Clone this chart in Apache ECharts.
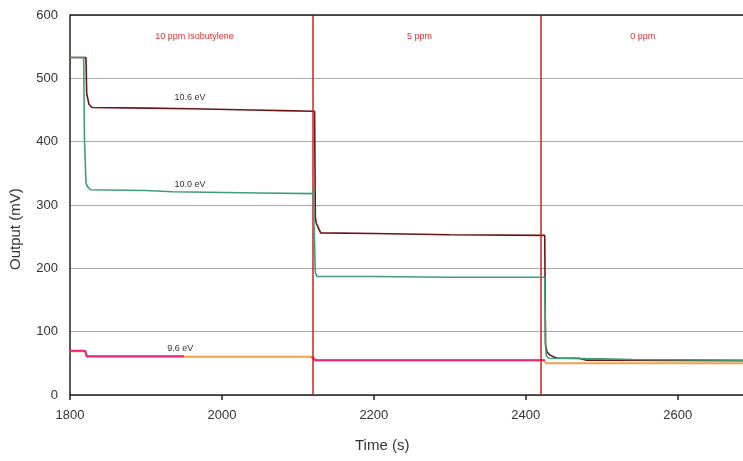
<!DOCTYPE html>
<html><head><meta charset="utf-8">
<script src="https://cdn.jsdelivr.net/npm/echarts@6/dist/echarts.min.js"></script>
<style>html,body{margin:0;padding:0;background:#fff}#c{width:743px;height:461px}</style>
</head><body><div id="c"></div>
<script>
// 10.6 eV lamp
var t106 = [1800,1821,1822,1823,1825,1829,1900,1960,2040,2080,2119,2122,2123,2124,2127,2130,2200,2300,2425,2426,2428,2432,2437,2442,2470,2480,2686];
var v106 = [533,533,476,476,459,454,453,452,450,449,448,448,280,272,264,256,255,253,252,80,68,63,60,58,58,55,54];
// 10.0 eV lamp
var t100 = [1800,1818,1819,1820,1821,1823,1827,1900,1935,2050,2119,2120,2122,2123,2125,2200,2300,2425,2426,2427,2430,2500,2540,2686];
var v100 = [533,533,407,407,335,329,324,323,321,319,318,324,324,193,187,187,186,186,82,62,58,57,56,55];
// 9.6 eV lamp (two traces)
var t96a = [1800,1820,1822,2120,2123,2424,2427,2686];
var v96a = [69,69,60.5,60.5,55,55,50,50];
var t96b = [1800,1820,1822,1950,1951,2118,2123,2425];
var v96b = [70,70,61,61,null,60,55,55];
// annotations
var concLabels = ['10 ppm Isobutylene','5 ppm','0 ppm'];
var concX = [1964,2260,2554];
var concY = 566;
var switchTimes = [2120,2420];
var yTicks = [0,600,100];

function zip(t,v){return t.map(function(x,i){return [x, v[i]];});}
function lbl(text, x, y, color, size){
  return {coord:[x,y], value:text, symbol:'circle', symbolSize:0,
    label:{show:true, formatter:text, color:color, fontSize:size, fontFamily:'Liberation Sans', position:'inside'}};
}
var chart = echarts.init(document.getElementById('c'));
chart.setOption({
  animation:false,
  grid:{left:70, top:15, right:0, bottom:66},
  graphic:[
    {type:'text', left:355, top:438, style:{text:'Time (s)', fill:'#333', fontSize:15, fontFamily:'Liberation Sans'}},
    {type:'text', rotation:Math.PI/2, x:8, y:270, style:{text:'Output (mV)', fill:'#333', fontSize:15, fontFamily:'Liberation Sans'}}
  ],
  xAxis:{type:'value', min:1800, max:2686, interval:200,
    axisLine:{lineStyle:{color:'#222', width:1.5}},
    axisTick:{show:true, length:5, lineStyle:{color:'#222', width:1.5}},
    axisLabel:{color:'#333', fontSize:13, fontFamily:'Liberation Sans', margin:14, showMaxLabel:false,
      formatter:function(v){return String(v);}},
    splitLine:{show:false}},
  yAxis:{type:'value', min:yTicks[0], max:yTicks[1], interval:yTicks[2],
    axisLine:{show:true, lineStyle:{color:'#222', width:1.5}},
    axisTick:{show:false},
    axisLabel:{color:'#333', fontSize:13, fontFamily:'Liberation Sans', margin:12},
    splitLine:{show:true, lineStyle:{color:'#a8a8a8', width:1.2}}},
  series:[
    {type:'line', data:zip(t96a,v96a), showSymbol:false, lineStyle:{color:'#f2a24a', width:2}, z:2,
      markPoint:{data:[lbl('9.6 eV',1945,74,'#333',9)]}},
    {type:'line', data:zip(t96b,v96b), showSymbol:false, connectNulls:false, lineStyle:{color:'#e8237d', width:2}, z:3},
    {type:'line', data:zip(t106,v106), showSymbol:false, lineStyle:{color:'#6b1414', width:1.6}, z:4,
      markPoint:{data:[lbl('10.6 eV',1958,470,'#333',9)]}},
    {type:'line', data:zip(t100,v100), showSymbol:false, lineStyle:{color:'#3f9e77', width:1.6}, z:5,
      markPoint:{data:[lbl('10.0 eV',1958,333,'#333',9)]}},
    {type:'line', data:[], z:6,
      markLine:{silent:true, symbol:'none', label:{show:false},
        data:switchTimes.map(function(t){return {xAxis:t, lineStyle:{color:'#cc2020', width:1.5, type:'solid'}};})
          .concat([{yAxis:yTicks[1], lineStyle:{color:'#222', width:1.5, type:'solid'}}])},
      markPoint:{data:concLabels.map(function(s,i){return lbl(s, concX[i], concY, '#e03030', 9);})}}
  ]
});
</script></body></html>
